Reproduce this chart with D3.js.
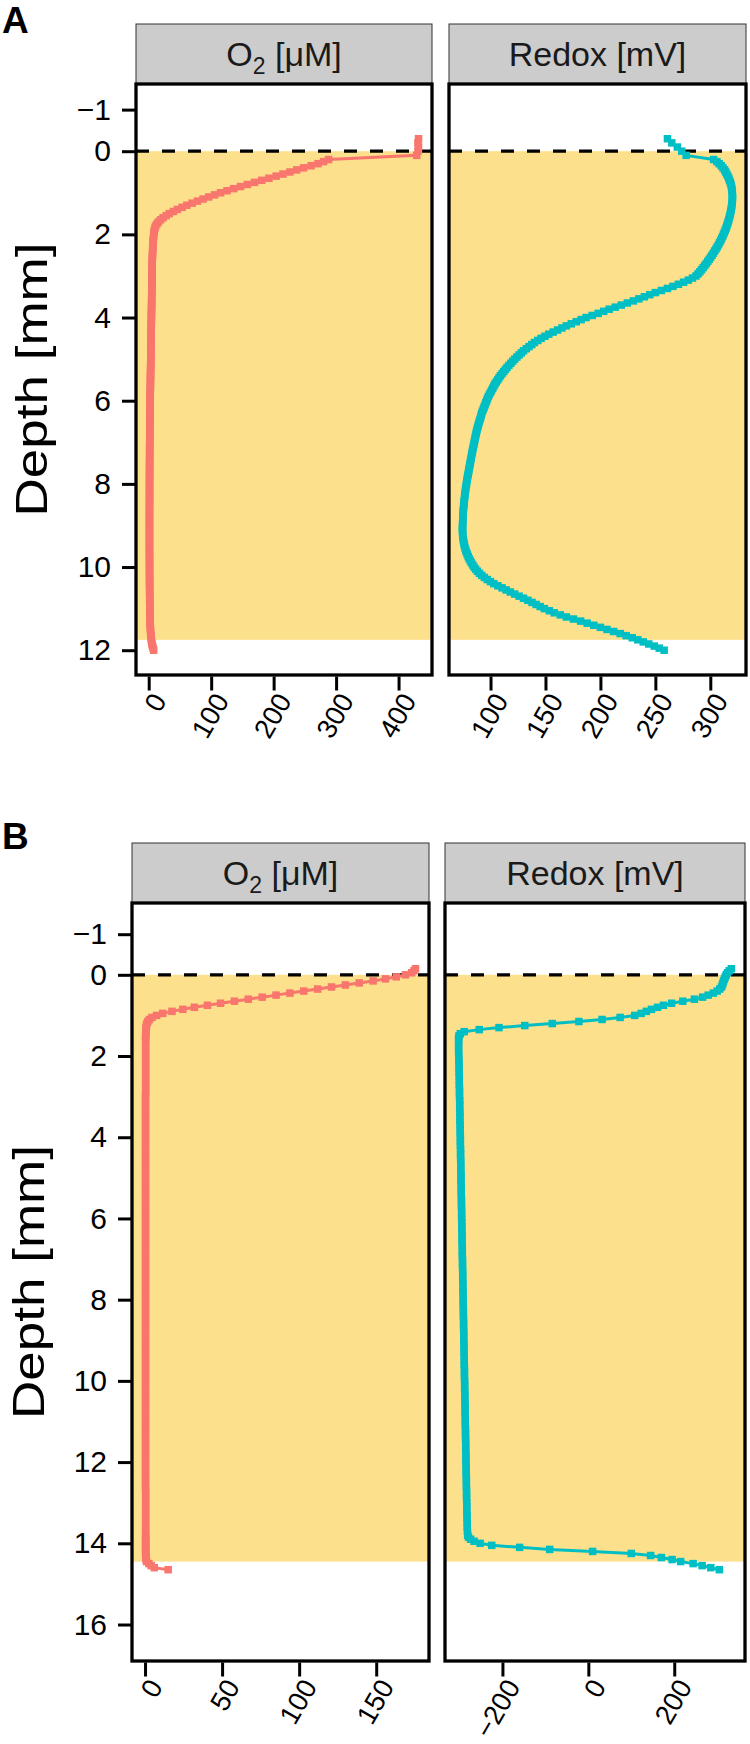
<!DOCTYPE html>
<html>
<head>
<meta charset="utf-8">
<script src="https://cdn.jsdelivr.net/npm/d3@7"></script>
<style>
  body { margin: 0; background: #fff; }
  svg { display: block; }
</style>
</head>
<body>
<script>
// ---------------- DATA ----------------
// Panel A (dense microprofile)
const depthA = [-0.3,-0.2,-0.1,0,0.1,
  0.2,0.25,0.3,0.35,0.4,0.45,0.5,0.55,0.6,0.65,0.7,0.75,0.8,0.85,0.9,0.95,1,1.05,1.1,1.15,1.2,1.25,1.3,1.35,1.4,1.45,1.5,1.55,1.6,1.65,1.7,1.75,1.8,1.85,1.9,1.95,2,
  2.05,2.1,2.15,2.2,2.25,2.3,2.35,2.4,2.45,2.5,2.55,2.6,2.65,2.7,2.75,2.8,2.85,2.9,2.95,3,
  3.05,3.1,3.15,3.2,3.25,3.3,3.35,3.4,3.45,3.5,3.55,3.6,3.65,3.7,3.75,3.8,3.85,3.9,3.95,4,
  4.05,4.1,4.15,4.2,4.25,4.3,4.35,4.4,4.45,4.5,4.55,4.6,4.65,4.7,4.75,4.8,4.85,4.9,4.95,5,
  5.05,5.1,5.15,5.2,5.25,5.3,5.35,5.4,5.45,5.5,5.55,5.6,5.65,5.7,5.75,5.8,5.85,5.9,5.95,6,
  6.05,6.1,6.15,6.2,6.25,6.3,6.35,6.4,6.45,6.5,6.55,6.6,6.65,6.7,6.75,6.8,6.85,6.9,6.95,7,
  7.05,7.1,7.15,7.2,7.25,7.3,7.35,7.4,7.45,7.5,7.55,7.6,7.65,7.7,7.75,7.8,7.85,7.9,7.95,8,
  8.05,8.1,8.15,8.2,8.25,8.3,8.35,8.4,8.45,8.5,8.55,8.6,8.65,8.7,8.75,8.8,8.85,8.9,8.95,9,
  9.05,9.1,9.15,9.2,9.25,9.3,9.35,9.4,9.45,9.5,9.55,9.6,9.65,9.7,9.75,9.8,9.85,9.9,9.95,10,
  10.05,10.1,10.15,10.2,10.25,10.3,10.35,10.4,10.45,10.5,10.55,10.6,10.65,10.7,10.75,10.8,10.85,10.9,10.95,11,
  11.05,11.1,11.15,11.2,11.25,11.3,11.35,11.4,11.45,11.5,11.55,11.6,11.65,11.7,11.75,11.8,11.85,11.9,11.95,12];
const o2A = [432,431,432,431,429,
  288,280,271,260,248,237,226,215,204,192.5,181,169.5,158,147,136,125.5,115,105.5,96,87,78,69.5,61,53.5,46,39.5,33,28,23,19,15.5,13,11,10,9,8.5,8.2,
  7.8,7.5,7.2,7,6.8,6.6,6.4,6.3,6.1,6,5.9,5.8,5.7,5.6,5.55,5.5,5.45,5.4,5.35,5.3,
  5.25,5.2,5.15,5.1,5.05,5.0,4.95,4.9,4.85,4.8,4.75,4.7,4.65,4.6,4.55,4.5,4.45,4.4,4.35,4.3,
  4.25,4.2,4.15,4.1,4.05,4.0,3.95,3.9,3.85,3.8,3.75,3.7,3.65,3.6,3.55,3.5,3.45,3.4,3.35,3.3,
  3.25,3.2,3.15,3.1,3.05,3.0,2.95,2.9,2.85,2.8,2.75,2.7,2.65,2.6,2.55,2.5,2.45,2.4,2.35,2.3,
  2.25,2.2,2.15,2.1,2.05,2.0,1.95,1.9,1.9,1.9,1.85,1.8,1.8,1.8,1.75,1.7,1.7,1.7,1.65,1.6,
  1.6,1.6,1.55,1.5,1.5,1.5,1.5,1.5,1.45,1.4,1.4,1.4,1.4,1.4,1.4,1.4,1.35,1.3,1.3,1.3,
  1.3,1.3,1.3,1.3,1.3,1.3,1.3,1.3,1.3,1.3,1.25,1.2,1.2,1.2,1.2,1.2,1.2,1.2,1.2,1.2,
  1.2,1.2,1.2,1.2,1.2,1.2,1.2,1.2,1.2,1.2,1.2,1.2,1.25,1.3,1.3,1.3,1.3,1.3,1.3,1.3,
  1.3,1.3,1.35,1.4,1.4,1.4,1.4,1.4,1.45,1.5,1.5,1.5,1.55,1.6,1.6,1.6,1.65,1.7,1.75,1.8,
  1.85,1.9,1.95,2.0,2.1,2.2,2.3,2.45,2.6,2.8,3.0,3.25,3.5,3.85,4.2,4.7,5.3,6.0,7.0,8.0];
const redoxA = [261,265,270,274,278,
  303,306,308,310,311.5,313,314,315,316,316.8,317.5,318.2,318.8,319.2,319.6,319.8,320,320.1,320.2,320.1,320,319.8,319.6,319.3,319,318.6,318.2,317.8,317.3,316.8,316.2,315.6,315,314.3,313.6,312.8,312,
  311.2,310.3,309.4,308.4,307.4,306.3,305.2,304,302.8,301.6,300.3,299,297.7,296.3,294.9,293.5,292,290.5,288.8,287,
  283.8,280,275.7,271,266,261,255.5,250,245,240,235,230,224.5,219,213.5,208,203,198,192.5,187,
  182.5,178,173.5,169,165,161,157,153,149.5,146,143,140,137.5,135,132.5,130,128,126,124,122,
  120.2,118.5,116.7,115,113.5,112,110.5,109,107.7,106.5,105.2,104,103,102,101,100,99,98,97.2,96.5,
  95.7,95,94.2,93.5,92.7,92,91.5,91,90.4,89.8,89.2,88.7,88.2,87.7,87.2,86.8,86.4,86,85.6,85.2,
  84.8,84.4,84,83.6,83.2,82.9,82.5,82.2,81.8,81.5,81.1,80.8,80.4,80.1,79.7,79.4,79,78.7,78.4,78.1,
  77.8,77.5,77.2,77,76.7,76.5,76.3,76.1,75.9,75.7,75.5,75.4,75.2,75.1,75,74.9,74.8,74.7,74.6,74.6,
  74.5,74.5,74.5,74.6,74.8,75,75.3,75.6,76,76.4,76.9,77.5,78.2,78.9,79.7,80.6,81.6,82.6,83.8,85,
  86.4,88,89.9,92,94.4,97,99.9,103,106.7,110.5,114.2,118,122,126,130,134,137.8,141.5,145.2,149,
  153.5,158,163.5,169,175.5,182,188,194,200,206,212,218,223.5,229,234,239,244,249,253.5,258];

// Panel B (0.05 mm steps in the gradients, 0.1 mm in between)
const depthB = [-0.15,-0.1,-0.05,0,0.05,0.1,0.15,0.2,0.25,0.3,0.35,0.4,0.45,0.5,0.55,0.6,0.65,0.7,0.75,0.8,0.85,0.9,0.95,1,1.05,1.1,1.15,1.2,1.25,1.3,1.35,1.4,1.45,1.5,1.55,1.6,
  1.7,1.8,1.9,2,2.1,2.2,2.3,2.4,2.5,2.6,2.7,2.8,2.9,3,3.1,3.2,3.3,3.4,3.5,3.6,3.7,3.8,3.9,4,4.1,4.2,4.3,4.4,4.5,4.6,4.7,4.8,4.9,5,5.1,5.2,5.3,5.4,5.5,5.6,5.7,5.8,5.9,6,6.1,6.2,6.3,6.4,6.5,6.6,6.7,6.8,6.9,7,7.1,7.2,7.3,7.4,7.5,7.6,7.7,7.8,7.9,8,8.1,8.2,8.3,8.4,8.5,8.6,8.7,8.8,8.9,9,9.1,9.2,9.3,9.4,9.5,9.6,9.7,9.8,9.9,10,10.1,10.2,10.3,10.4,10.5,10.6,10.7,10.8,10.9,11,11.1,11.2,11.3,11.4,11.5,11.6,11.7,11.8,11.9,12,12.1,12.2,12.3,12.4,12.5,12.6,12.7,12.8,12.9,13,13.1,13.2,13.3,13.4,13.5,13.6,13.7,13.8,
  13.85,13.9,13.95,14,14.05,14.1,14.15,14.2,14.25,14.3,14.35,14.4,14.45,14.5,14.55,14.6,14.65];
const o2B = [175.5,174.5,173,169,163,156,148,139,130,121,112,103,94,85,76,67,58,49,40.5,32,24.5,17.5,11.5,7.5,4.5,2.8,1.8,1.2,0.9,0.7,0.6,0.5,0.5,0.4,0.4,0.4,
  0.4,0.4,0.4,0.4,0.4,0.4,0.4,0.4,0.4,0.4,
  0.4,0.4,0.4,0.3,0.3,0.3,0.3,0.3,0.3,0.3,
  0.3,0.3,0.3,0.3,0.3,0.3,0.3,0.3,0.3,0.3,
  0.3,0.3,0.3,0.3,0.3,0.3,0.3,0.3,0.3,0.3,
  0.3,0.3,0.3,0.3,0.3,0.3,0.3,0.3,0.3,0.3,
  0.3,0.3,0.3,0.3,0.3,0.3,0.3,0.3,0.3,0.3,
  0.3,0.3,0.3,0.3,0.3,0.3,0.3,0.3,0.3,0.3,
  0.3,0.3,0.3,0.3,0.3,0.3,0.3,0.3,0.3,0.3,
  0.3,0.3,0.3,0.3,0.3,0.3,0.3,0.3,0.3,0.3,
  0.3,0.3,0.3,0.3,0.3,0.3,0.3,0.3,0.3,0.3,
  0.3,0.3,0.3,0.3,0.3,0.3,0.3,0.3,0.3,0.3,
  0.4,0.4,0.4,0.4,0.4,0.4,0.4,0.4,0.4,0.4,
  0.4,0.4,
  0.4,0.4,0.4,0.4,0.4,0.4,0.4,0.4,0.4,0.5,0.5,0.7,1.0,2.5,4,6,15];
const redoxB = [333,328,324,321,319,317,315,313.5,312,310,306,300,291,279,266,247,220,194,175,161,147,135,123,108,74,32,-22,-84,-148,-208,-254,-289,-298,-301,-302,-302,
  -302,-302,-302,-301.5,-301.5,-301,-301,-301,-300.5,-300.5,
  -300.5,-300,-300,-300,-299.5,-299.5,-299.5,-299,-299,-299,
  -298.5,-298.5,-298.5,-298,-298,-298,-297.5,-297.5,-297.5,-297,
  -297,-297,-296.5,-296.5,-296.5,-296,-296,-296,-295.5,-295.5,
  -295.5,-295,-295,-295,-294.5,-294.5,-294.5,-294,-294,-294,
  -293.5,-293.5,-293.5,-293,-293,-293,-292.5,-292.5,-292.5,-292,
  -292,-292,-291.5,-291.5,-291.5,-291,-291,-291,-290.5,-290.5,
  -290.5,-290,-290,-290,-289.5,-289.5,-289.5,-289,-289,-289,
  -288.5,-288.5,-288.5,-288,-288,-288,-287.5,-287.5,-287.5,-287,
  -287,-287,-286.5,-286.5,-286.5,-286,-286,-286,-285.5,-285.5,
  -285.5,-285,-285,-285,-284.5,-284.5,-284.5,-284,-284,-284,
  -283.5,-283.5,-283.5,-283,-283,-283,-282.5,-282.5,-282,-282,
  -281.5,-281,
  -279,-274,-266,-252,-225,-160,-90,10,100,145,170,195,215,244,265,285,305];

// axis ticks, limits, facet labels
const depthTicksA = [-1,0,2,4,6,8,10,12];
const depthTicksB = [-1,0,2,4,6,8,10,12,14,16];
const depthLimitsA = [-0.97, 11.95];
const depthLimitsB = [-0.92, 16.05];
const sedimentA = [0, 11.75];
const sedimentB = [0, 14.45];
const o2TicksA = [0,100,200,300,400];
const redoxTicksA = [100,150,200,250,300];
const o2TicksB = [0,50,100,150];
const redoxTicksB = [-200,0,200];
const facetTitles = ["O2 [μM]", "Redox [mV]"];
const panelLabels = ["A", "B"];
const yTitle = "Depth [mm]";

// ---------------- STYLE ----------------
const FONT = '"Liberation Sans", Arial, Helvetica, sans-serif';
const O2_COLOR = "#F8766D";
const REDOX_COLOR = "#00BFC4";
const SED_COLOR = "#FDE08C";
const STRIP_FILL = "#CCCCCC";

const svg = d3.select("body").append("svg").attr("width", 750).attr("height", 1744);

function expand(ext) {
  const r = ext[1] - ext[0];
  return [ext[0] - 0.05 * r, ext[1] + 0.05 * r];
}

let clipId = 0;

function drawRow(row) {
  const y = d3.scaleLinear().domain(expand(row.depthLimits)).range([row.panelTop, row.panelBottom]);

  svg.append("text").attr("x", 2).attr("y", row.labelY)
    .attr("font-family", FONT).attr("font-weight", "bold").attr("font-size", 37)
    .text(row.label);

  const x0first = row.panels[0].x0;
  const yAxis = d3.axisLeft(y).tickValues(row.depthTicks).tickSize(14).tickPadding(11)
    .tickFormat(d3.format("d"));
  const gy = svg.append("g").attr("transform", `translate(${x0first},0)`).call(yAxis);
  gy.select(".domain").remove();
  gy.attr("font-family", FONT).attr("font-size", 30);
  gy.selectAll(".tick line").attr("stroke", "#000").attr("stroke-width", 3);
  gy.selectAll(".tick text").attr("fill", "#000");

  svg.append("text")
    .attr("transform", `translate(${row.titleX},${(row.panelTop + row.panelBottom) / 2}) rotate(-90)`)
    .attr("text-anchor", "middle").attr("dy", "0.35em")
    .attr("font-family", FONT).attr("font-size", 45)
    .attr("textLength", 274).attr("lengthAdjust", "spacingAndGlyphs")
    .text(yTitle);

  row.panels.forEach(p => {
    const x = d3.scaleLinear().domain(expand(d3.extent(p.values))).range([p.x0, p.x1]);
    const pts = p.depth.map((d, i) => ({ d: d, v: p.values[i] }));

    svg.append("rect").attr("x", p.x0).attr("y", row.stripTop)
      .attr("width", p.x1 - p.x0).attr("height", row.panelTop - row.stripTop)
      .attr("fill", STRIP_FILL).attr("stroke", "#333").attr("stroke-width", 1);
    const st = svg.append("text")
      .attr("x", (p.x0 + p.x1) / 2).attr("y", (row.stripTop + row.panelTop) / 2 + 12)
      .attr("text-anchor", "middle").attr("font-family", FONT).attr("font-size", 34).attr("fill", "#1a1a1a");
    if (p.title.startsWith("O2")) {
      st.append("tspan").text("O");
      st.append("tspan").attr("font-size", 23).attr("dy", 8).text("2");
      st.append("tspan").attr("dy", -8).text(" [μM]");
    } else {
      st.text(p.title);
    }

    const cid = "clip" + (clipId++);
    svg.append("clipPath").attr("id", cid).append("rect")
      .attr("x", p.x0).attr("y", row.panelTop).attr("width", p.x1 - p.x0).attr("height", row.panelBottom - row.panelTop);
    const g = svg.append("g").attr("clip-path", `url(#${cid})`);

    g.append("rect").attr("x", p.x0).attr("y", row.panelTop)
      .attr("width", p.x1 - p.x0).attr("height", row.panelBottom - row.panelTop).attr("fill", "#fff");

    g.append("rect").attr("x", p.x0).attr("y", y(row.sediment[0]))
      .attr("width", p.x1 - p.x0).attr("height", y(row.sediment[1]) - y(row.sediment[0]))
      .attr("fill", SED_COLOR);

    g.append("line").attr("x1", p.x0).attr("x2", p.x1).attr("y1", y(0)).attr("y2", y(0))
      .attr("stroke", "#000").attr("stroke-width", 3.3).attr("stroke-dasharray", "13,13");

    const line = d3.line().x(q => x(q.v)).y(q => y(q.d));
    g.append("path").datum(pts).attr("d", line).attr("fill", "none")
      .attr("stroke", p.color).attr("stroke-width", 3);
    const s = 7.5;
    g.selectAll("rect.pt").data(pts).enter().append("rect").attr("class", "pt")
      .attr("x", q => x(q.v) - s / 2).attr("y", q => y(q.d) - s / 2)
      .attr("width", s).attr("height", s).attr("fill", p.color);

    svg.append("rect").attr("x", p.x0).attr("y", row.panelTop)
      .attr("width", p.x1 - p.x0).attr("height", row.panelBottom - row.panelTop)
      .attr("fill", "none").attr("stroke", "#000").attr("stroke-width", 3.3);

    const xAxis = d3.axisBottom(x).tickValues(p.ticks).tickSize(14).tickFormat(d3.format("d"));
    const gx = svg.append("g").attr("transform", `translate(0,${row.panelBottom + 1.5})`).call(xAxis);
    gx.select(".domain").remove();
    gx.attr("font-family", FONT).attr("font-size", 27.5);
    gx.selectAll(".tick line").attr("stroke", "#000").attr("stroke-width", 3);
    gx.selectAll(".tick text")
      .attr("fill", "#000")
      .attr("y", 0).attr("dy", "0.72em")
      .attr("text-anchor", "end")
      .attr("transform", "translate(1,14) rotate(-60)");
  });
}

drawRow({
  label: panelLabels[0], labelY: 33, titleX: 31,
  stripTop: 24, panelTop: 84, panelBottom: 675,
  depthLimits: depthLimitsA, depthTicks: depthTicksA, sediment: sedimentA,
  panels: [
    { x0: 136, x1: 432, title: facetTitles[0], depth: depthA, values: o2A, color: O2_COLOR, ticks: o2TicksA },
    { x0: 449, x1: 746, title: facetTitles[1], depth: depthA, values: redoxA, color: REDOX_COLOR, ticks: redoxTicksA }
  ]
});

drawRow({
  label: panelLabels[1], labelY: 849, titleX: 28,
  stripTop: 843, panelTop: 903, panelBottom: 1661,
  depthLimits: depthLimitsB, depthTicks: depthTicksB, sediment: sedimentB,
  panels: [
    { x0: 132, x1: 429, title: facetTitles[0], depth: depthB, values: o2B, color: O2_COLOR, ticks: o2TicksB },
    { x0: 445, x1: 745, title: facetTitles[1], depth: depthB, values: redoxB, color: REDOX_COLOR, ticks: redoxTicksB }
  ]
});
</script>
</body>
</html>
